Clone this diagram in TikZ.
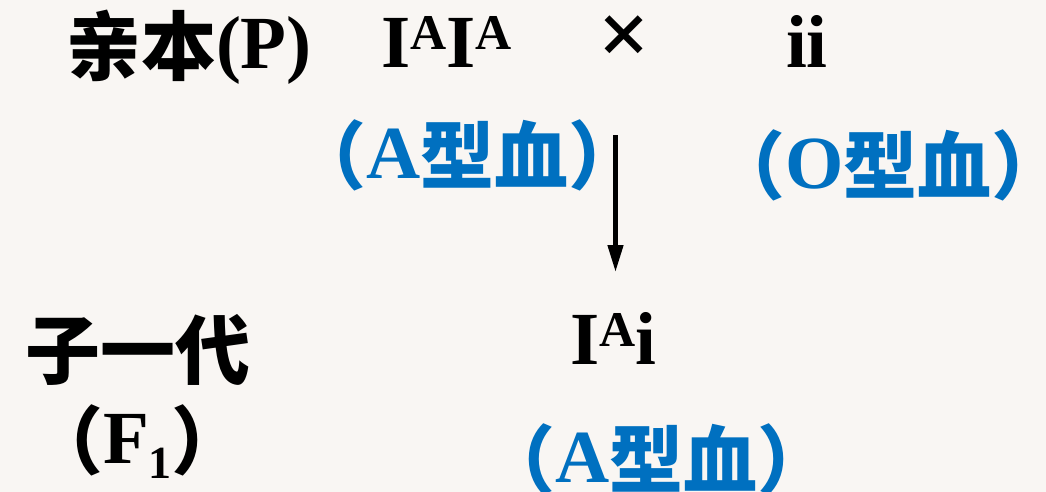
\documentclass[tikz,border=0pt]{standalone}
\usepackage{fontspec}
\setmainfont{Liberation Serif}
\newfontfamily\cjk{Noto Sans CJK SC}
\usetikzlibrary{arrows.meta}
\definecolor{paper}{RGB}{249,246,243}
\definecolor{typeblue}{RGB}{0,112,192}
% Chinese characters, dropped a little below the Latin baseline
\newcommand\hz[1]{\raisebox{-5pt}{\cjk\fontsize{74}{80}\selectfont #1}}
% allele superscript
\newcommand\allele[1]{\raisebox{18pt}{\fontsize{50}{50}\selectfont #1}}

\begin{document}
\begin{tikzpicture}[x=1pt,y=-1pt,
  every node/.style={inner sep=0pt, outer sep=0pt, anchor=base west},
  hanzi/.style={font=\cjk\bfseries\fontsize{75}{80}\selectfont},
  roman/.style={font=\bfseries\fontsize{75}{80}\selectfont},
  blood/.style={font=\bfseries\fontsize{75}{80}\selectfont, text=typeblue},
  cross/.style={line width=4.5pt, -{Triangle[length=27pt,width=15pt]}},
]
\fill[paper] (0,0) rectangle (1046,492);
\useasboundingbox (0,0) rectangle (1046,492);

% parental generation
\node[hanzi] (parent) at (66,74.5) {亲本};
\node[roman] (plabel) at (216,69) {(P)};
\node[roman] (pa) at (381,68) {I\allele{A}I\allele{A}};
\node[hanzi, anchor=base, font=\cjk\bfseries\fontsize{57}{60}\selectfont] (times) at (624,57) {×};
\node[roman] (po) at (786,68) {ii};
\node[blood] (pablood) at (292,178) {\hz{（}A\hz{型血）}};
\node[blood] (poblood) at (711,188) {\hz{（}O\hz{型血）}};

% cross arrow
\coordinate (arrtop) at (615.5,135);
\coordinate (arrtip) at (615.5,272);
\draw[cross] (arrtop) -- (arrtip);

% first filial generation
\node[hanzi] (filial) at (25,378) {子一代};
\node[roman] (flabel) at (29,463) {\hz{（}F\raisebox{-15pt}{\fontsize{46}{46}\selectfont 1}\hz{）}};
\node[roman] (fa) at (570.5,364) {I\allele{A}i};
\node[blood] (fablood) at (481,482) {\hz{（}A\hz{型血）}};
\end{tikzpicture}
\end{document}
